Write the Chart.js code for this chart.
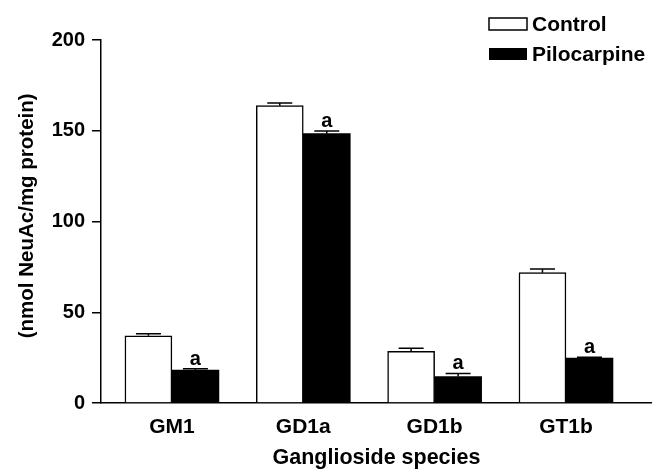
<!DOCTYPE html>
<html>
<head>
<meta charset="utf-8">
<script src="https://cdn.jsdelivr.net/npm/chart.js@4.4.1/dist/chart.umd.min.js"></script>
<style>
    body { margin: 0; background: #fff; }
    #wrap { width: 652px; height: 469px; }
</style>
</head>
<body>
<div id="wrap"><canvas id="myChart" width="652" height="469"></canvas></div>
<script>
// values
const categories = ['GM1', 'GD1a', 'GD1b', 'GT1b'];
const controlValues = [37.0, 163.8, 28.5, 71.8];
const controlErrors = [1.2, 1.5, 1.6, 2.0];
const pilocarpineValues = [18.2, 148.4, 14.6, 24.7];
const pilocarpineErrors = [0.7, 1.5, 1.7, 0.5];
const pilocarpineMarks = ['a', 'a', 'a', 'a'];
const yTicks = [0, 50, 100, 150, 200];

const fontFamily = "'Liberation Sans', Arial, Helvetica, sans-serif";

let toPoints = vals => vals.map((v, i) => ({ x: i, y: v }));

// error bars (upper whisker only) and significance letters
const errorBars = {
    id: 'errorBars',
    afterDatasetsDraw(chart) {
        let ctx = chart.ctx;
        let yScale = chart.scales.y;
        chart.data.datasets.forEach((ds, di) => {
            let meta = chart.getDatasetMeta(di);
            meta.data.forEach((bar, i) => {
                let top = yScale.getPixelForValue(ds.data[i].y + ds.errors[i]);
                ctx.save();
                ctx.strokeStyle = '#000';
                ctx.lineWidth = 1.5;
                ctx.beginPath();
                ctx.moveTo(bar.x, bar.y);
                ctx.lineTo(bar.x, top);
                ctx.moveTo(bar.x - 12.5, top);
                ctx.lineTo(bar.x + 12.5, top);
                ctx.stroke();
                if (ds.marks && ds.marks[i]) {
                    ctx.fillStyle = '#000';
                    ctx.font = 'bold 20px ' + fontFamily;
                    ctx.textAlign = 'center';
                    ctx.textBaseline = 'alphabetic';
                    ctx.fillText(ds.marks[i], bar.x, top - 4);
                }
                ctx.restore();
            });
        });
    }
};

// legend in the top right corner
const boxLegend = {
    id: 'boxLegend',
    afterDraw(chart) {
        let ctx = chart.ctx;
        let rows = [24, 54];
        chart.data.datasets.forEach((ds, di) => {
            let y = rows[di];
            ctx.save();
            ctx.fillStyle = ds.backgroundColor;
            ctx.fillRect(489, y - 6, 38, 12);
            if (ds.borderWidth) {
                ctx.strokeStyle = '#000';
                ctx.lineWidth = 1.5;
                ctx.strokeRect(489, y - 6, 38, 12);
            }
            ctx.fillStyle = '#000';
            ctx.font = 'bold 21px ' + fontFamily;
            ctx.textAlign = 'left';
            ctx.textBaseline = 'middle';
            ctx.fillText(ds.label, 532, y + 1);
            ctx.restore();
        });
    }
};

let config = {
    type: 'bar',
    data: {
        datasets: [
            {
                label: 'Control',
                data: toPoints(controlValues),
                errors: controlErrors,
                backgroundColor: '#fff',
                borderColor: '#000',
                borderWidth: 1.5,
                barThickness: 47
            },
            {
                label: 'Pilocarpine',
                data: toPoints(pilocarpineValues),
                errors: pilocarpineErrors,
                marks: pilocarpineMarks,
                backgroundColor: '#000',
                borderWidth: 0,
                barThickness: 47
            }
        ]
    },
    options: {
        responsive: false,
        animation: false,
        layout: { padding: { top: 40, right: 0, bottom: 0, left: 0 } },
        plugins: {
            legend: { display: false },
            tooltip: { enabled: false }
        },
        scales: {
            x: {
                type: 'linear',
                offset: false,
                min: -0.54,
                max: 3.655,
                grid: { display: false, offset: false },
                border: { display: true, color: '#000', width: 1.5 },
                ticks: {
                    stepSize: 1,
                    includeBounds: false,
                    autoSkip: false,
                    maxRotation: 0,
                    padding: 4,
                    color: '#000',
                    font: { family: fontFamily, size: 21, weight: 'bold' },
                    callback: v => categories[v] || ''
                },
                title: {
                    display: true,
                    text: 'Ganglioside species',
                    color: '#000',
                    font: { family: fontFamily, size: 21.5, weight: 'bold', lineHeight: 1 },
                    padding: 0
                },
                afterFit: scale => { scale.height = 66; }
            },
            y: {
                min: 0,
                max: 200,
                grid: {
                    display: true,
                    drawOnChartArea: false,
                    drawTicks: true,
                    tickLength: 9,
                    color: '#000',
                    lineWidth: 1.5
                },
                border: { display: true, color: '#000', width: 1.5 },
                afterBuildTicks: scale => {
                    scale.ticks = yTicks.map(v => ({ value: v }));
                },
                ticks: {
                    padding: 7,
                    color: '#000',
                    font: { family: fontFamily, size: 20, weight: 'bold' }
                },
                title: {
                    display: true,
                    text: '\u00A0\u00A0(nmol NeuAc/mg protein)',
                    color: '#000',
                    font: { family: fontFamily, size: 20.5, weight: 'bold', lineHeight: 1.2 },
                    padding: { top: 15, bottom: 0 }
                },
                afterFit: scale => { scale.width = 101; }
            }
        }
    },
    plugins: [errorBars, boxLegend]
};

var myChart = new Chart(document.getElementById('myChart'), config);
</script>
</body>
</html>
